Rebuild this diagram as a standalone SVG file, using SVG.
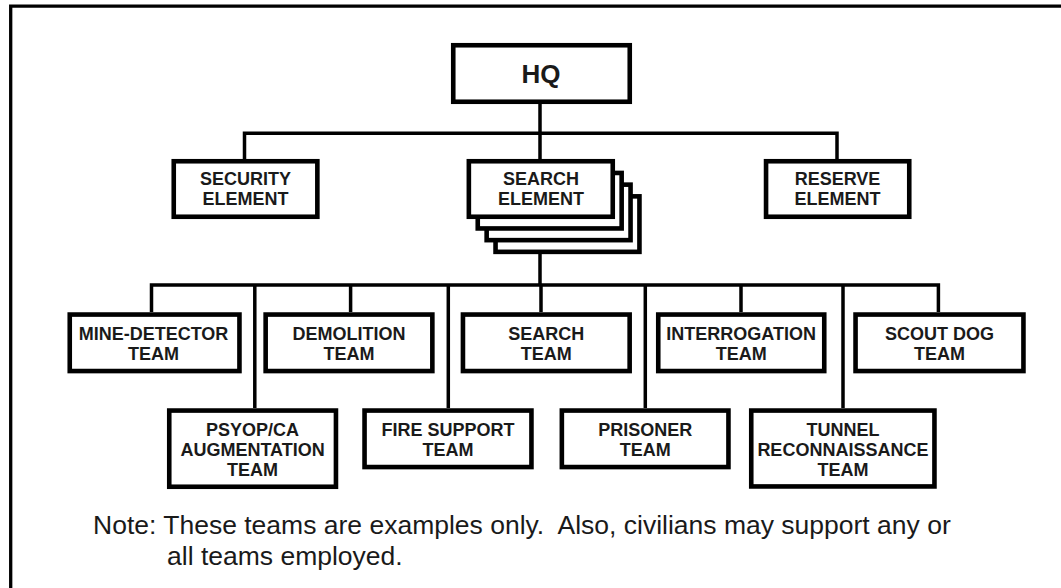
<svg xmlns="http://www.w3.org/2000/svg" width="1061" height="588" viewBox="0 0 1061 588">
<style>
.box{fill:#fff;stroke:#000;stroke-width:4.6}
.ln{fill:none;stroke:#000;stroke-width:3.5}
.frame{fill:none;stroke:#000;stroke-width:3.3}
.t{font-family:"Liberation Sans",Arial,sans-serif;font-weight:bold;font-size:18px;fill:#1a1a1a;text-anchor:middle}
.hq{font-size:26px}
.note{font-family:"Liberation Sans",Arial,sans-serif;font-size:26.5px;fill:#1a1a1a;white-space:pre}
</style>
<rect width="1061" height="588" fill="#fff"/>
<path class="frame" d="M10.7,590 V6.2 H1065"/>
<g id="connectors">
<path class="ln" d="M540,104 V159 M244.5,159 V133.3 H837 V159"/>
<path class="ln" d="M540,254 V285 M151.5,312 V285 H938.4 V312"/>
<path class="ln" d="M254.8,285 V408 M350.6,285 V312 M448.3,285 V408 M541,285 V312 M645.3,285 V408 M741,285 V312 M843,285 V408"/>
</g>
<g id="hq">
<rect class="box" x="453.25" y="45.25" width="176.5" height="56.5"/>
<text class="t hq" x="541" y="82.5">HQ</text>
</g>
<g id="security">
<rect class="box" x="173.75" y="161.25" width="143.6" height="55.5"/>
<text class="t" x="245.5" y="185">SECURITY</text>
<text class="t" x="245.5" y="205">ELEMENT</text>
</g>
<g id="search-element">
<rect class="box" x="495.55" y="196.35" width="143.9" height="55.5"/>
<rect class="box" x="486.65" y="184.65" width="143.9" height="55.5"/>
<rect class="box" x="477.75" y="172.95" width="143.9" height="55.5"/>
<rect class="box" x="468.85" y="161.25" width="143.9" height="55.5"/>
<text class="t" x="541" y="185">SEARCH</text>
<text class="t" x="541" y="205">ELEMENT</text>
</g>
<g id="reserve">
<rect class="box" x="766.05" y="161.25" width="143.2" height="55.5"/>
<text class="t" x="837.5" y="185">RESERVE</text>
<text class="t" x="837.5" y="205">ELEMENT</text>
</g>
<g id="mine-detector">
<rect class="box" x="69.75" y="314.55" width="169.7" height="56.5"/>
<text class="t" x="153.5" y="340">MINE-DETECTOR</text>
<text class="t" x="153.5" y="360">TEAM</text>
</g>
<g id="demolition">
<rect class="box" x="265.65" y="314.55" width="166.7" height="56.5"/>
<text class="t" x="349" y="340">DEMOLITION</text>
<text class="t" x="349" y="360">TEAM</text>
</g>
<g id="search-team">
<rect class="box" x="462.95" y="314.55" width="166.7" height="56.5"/>
<text class="t" x="546.3" y="340">SEARCH</text>
<text class="t" x="546.3" y="360">TEAM</text>
</g>
<g id="interrogation">
<rect class="box" x="658.25" y="314.55" width="166" height="56.5"/>
<text class="t" x="741.2" y="340">INTERROGATION</text>
<text class="t" x="741.2" y="360">TEAM</text>
</g>
<g id="scout-dog">
<rect class="box" x="855.55" y="314.55" width="167.9" height="56.5"/>
<text class="t" x="939.5" y="340">SCOUT DOG</text>
<text class="t" x="939.5" y="360">TEAM</text>
</g>
<g id="psyop">
<rect class="box" x="169.25" y="410.55" width="166.7" height="76.2"/>
<text class="t" x="252.6" y="435.7">PSYOP/CA</text>
<text class="t" x="252.6" y="456">AUGMENTATION</text>
<text class="t" x="252.6" y="476.3">TEAM</text>
</g>
<g id="fire-support">
<rect class="box" x="364.55" y="410.55" width="166.9" height="56.5"/>
<text class="t" x="448" y="435.7">FIRE SUPPORT</text>
<text class="t" x="448" y="456">TEAM</text>
</g>
<g id="prisoner">
<rect class="box" x="561.85" y="410.55" width="166.6" height="56.5"/>
<text class="t" x="645.2" y="435.7">PRISONER</text>
<text class="t" x="645.2" y="456">TEAM</text>
</g>
<g id="tunnel">
<rect class="box" x="751.25" y="410.55" width="183.2" height="75.9"/>
<text class="t" x="842.9" y="435.7">TUNNEL</text>
<text class="t" x="842.9" y="456">RECONNAISSANCE</text>
<text class="t" x="842.9" y="476.3">TEAM</text>
</g>
<g id="note">
<text class="note" x="93" y="534">Note: These teams are examples only.  Also, civilians may support any or</text>
<text class="note" x="167" y="565">all teams employed.</text>
</g>
</svg>
